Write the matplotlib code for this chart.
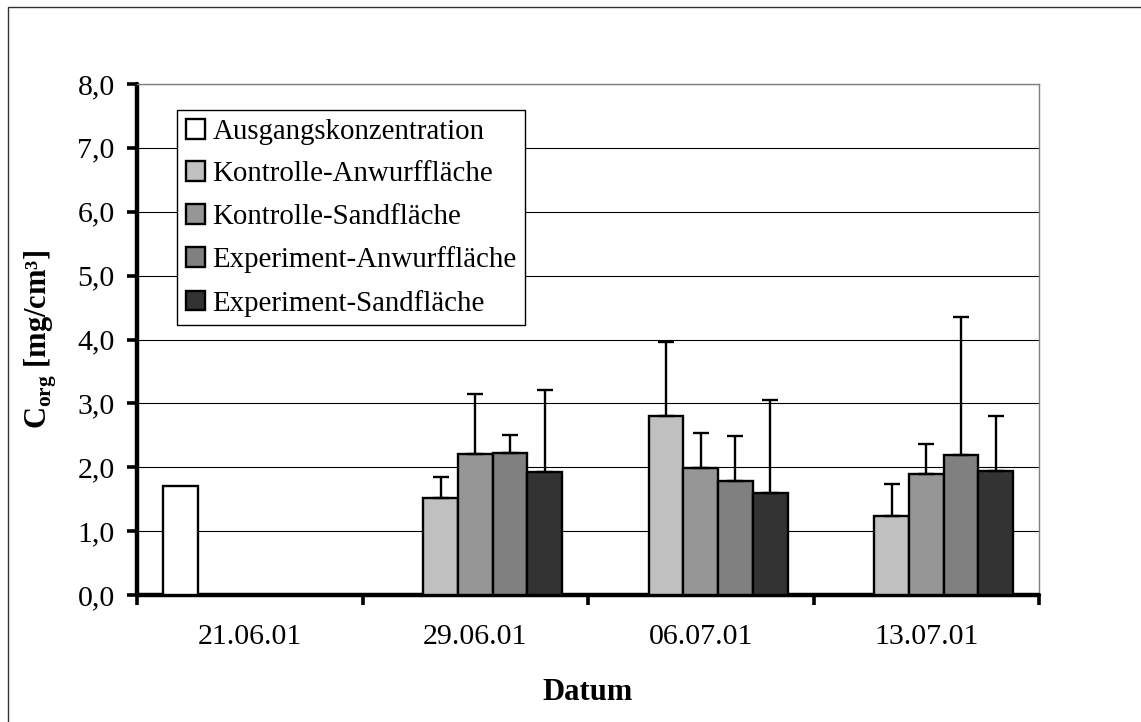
import numpy as np
import matplotlib
matplotlib.use("Agg")
import matplotlib.pyplot as plt
from matplotlib.patches import Rectangle

plt.rcParams["font.family"] = ["Liberation Serif", "DejaVu Serif"]
plt.rcParams["mathtext.fontset"] = "custom"
plt.rcParams["mathtext.rm"] = "Liberation Serif"
plt.rcParams["mathtext.bf"] = "Liberation Serif:bold"

dates = ["21.06.01", "29.06.01", "06.07.01", "13.07.01"]
series = ["Ausgangskonzentration", "Kontrolle-Anwurffläche", "Kontrolle-Sandfläche",
          "Experiment-Anwurffläche", "Experiment-Sandfläche"]
colors = ["#FFFFFF", "#C0C0C0", "#969696", "#808080", "#333333"]

# mean values per series (None = not measured)
ausgang = [1.70, None, None, None]
kontr_anwurf = [None, 1.52, 2.80, 1.23]
kontr_sand = [None, 2.21, 1.99, 1.90]
exp_anwurf = [None, 2.23, 1.79, 2.19]
exp_sand = [None, 1.92, 1.59, 1.94]

# upper standard deviations
err_ausgang = [None, None, None, None]
err_kontr_anwurf = [None, 0.33, 1.16, 0.50]
err_kontr_sand = [None, 0.93, 0.54, 0.47]
err_exp_anwurf = [None, 0.27, 0.70, 2.16]
err_exp_sand = [None, 1.29, 1.46, 0.87]

values = [ausgang, kontr_anwurf, kontr_sand, exp_anwurf, exp_sand]
errors = [err_ausgang, err_kontr_anwurf, err_kontr_sand, err_exp_anwurf, err_exp_sand]

W, H = 1141, 722
fig = plt.figure(figsize=(W / 100, H / 100), dpi=100)
ax = fig.add_axes([137 / W, 1 - 595 / H, (1039 - 137) / W, (595 - 84) / H])

bw = 0.154
for j, (name, vals, errs, col) in enumerate(zip(series, values, errors, colors)):
    xs = [i + (j - 2) * bw for i, v in enumerate(vals) if v is not None]
    ys = [v for v in vals if v is not None]
    ax.bar(xs, ys, width=bw, color=col, edgecolor="black", linewidth=1.7,
           label=name, zorder=3)
    ex = [i + (j - 2) * bw for i, e in enumerate(errs) if e is not None]
    ey = [vals[i] for i, e in enumerate(errs) if e is not None]
    ee = [e for e in errs if e is not None]
    if ex:
        ax.errorbar(ex, ey, yerr=[np.zeros(len(ee)), ee], fmt="none",
                    ecolor="black", elinewidth=1.7, capsize=6, capthick=1.7,
                    zorder=4)

ax.set_xlim(-0.5, 3.5)
ax.set_ylim(0, 8)
ax.set_yticks(np.arange(0, 8.1, 1.0))
ax.set_yticklabels([f"{v:.1f}".replace(".", ",") for v in np.arange(0, 8.1, 1.0)],
                   fontsize=21.5)
ax.yaxis.grid(True, color="black", linewidth=0.8, zorder=0)
ax.set_axisbelow(True)

ax.set_xticks(np.arange(-0.5, 3.6, 1.0))
ax.set_xticklabels([])
ax.set_xticks(range(len(dates)), minor=True)
ax.set_xticklabels(dates, minor=True, fontsize=21.5)
ax.tick_params(axis="x", which="minor", length=0, pad=21)
ax.tick_params(axis="x", which="major", length=7, width=2.6, direction="out")
ax.tick_params(axis="y", length=7, width=2.6, direction="out", pad=9)

for s in ("left", "bottom"):
    ax.spines[s].set_linewidth(3.2)
    ax.spines[s].set_capstyle("round")
for s in ("top", "right"):
    ax.spines[s].set_linewidth(1.0)
    ax.spines[s].set_color("#808080")

fig.text(41 / W, 1 - 340 / H, "C$_{\\mathbf{org}}$ [mg/cm³]", rotation=90,
         ha="center", va="center", fontsize=22, fontweight="bold")
fig.text(588 / W, 1 - 693 / H, "Datum", ha="center", va="center",
         fontsize=22, fontweight="bold")

leg = ax.legend(loc="upper left", bbox_to_anchor=(177 / W, 1 - 110 / H),
                bbox_transform=fig.transFigure, borderaxespad=0,
                fontsize=20.8, frameon=True, fancybox=False, framealpha=1,
                handlelength=0.68, handleheight=0.68, handletextpad=0.25,
                labelspacing=0.57, borderpad=0.3)
leg.get_frame().set_edgecolor("black")
leg.get_frame().set_linewidth(1.0)
for p in leg.get_patches():
    p.set_linewidth(1.7)

fig.add_artist(Rectangle((8 / W, -0.05), 1.2, 1 - 7 / H + 0.05,
                         transform=fig.transFigure, fill=False,
                         edgecolor="#333333", linewidth=1.0))

fig.savefig("out.png", dpi=100, facecolor="white")
